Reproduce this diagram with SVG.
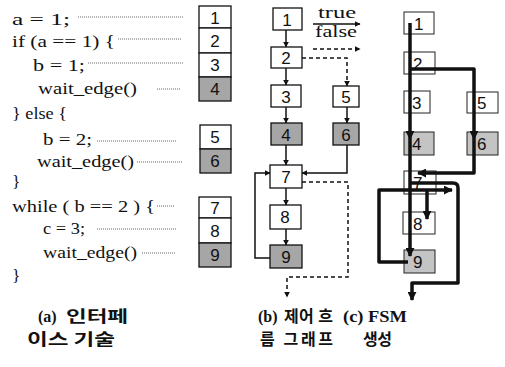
<svg xmlns="http://www.w3.org/2000/svg" width="505" height="367" viewBox="0 0 505 367">
<defs>
<style>
.code{font-family:"Liberation Serif","Times New Roman",serif;font-size:17.5px;fill:#111}
.num{font-family:"Liberation Sans",Arial,sans-serif;font-size:17px;fill:#111;text-anchor:middle}
.numl{font-family:"Liberation Sans",Arial,sans-serif;font-size:17px;fill:#111}
.box{fill:#fff;stroke:#111;stroke-width:1.3}
.sh{fill:#a6a6a6;stroke:#111;stroke-width:1.3}
.shc{fill:#c4c4c4;stroke:#222;stroke-width:1}
.boxc{fill:#fff;stroke:#222;stroke-width:1}
.lead{stroke:#666;stroke-width:1;stroke-dasharray:1 1;fill:none}
.ar{stroke:#111;stroke-width:1.5;fill:none;marker-end:url(#ah)}
.da{stroke:#111;stroke-width:1.5;fill:none;stroke-dasharray:4 3;marker-end:url(#ah)}
.th{stroke:#111;stroke-width:3.5;fill:none;stroke-linejoin:round}
.cap{font-family:"Liberation Serif","Noto Sans CJK KR",serif;font-size:16px;font-weight:bold;fill:#111}
.kr{font-family:"Noto Sans CJK KR","Noto Sans",sans-serif;font-size:16px;font-weight:bold;fill:#111}
.leg{font-family:"Liberation Serif","Times New Roman",serif;font-size:16px;fill:#111}
</style>
<marker id="ah" viewBox="0 0 10 10" refX="9" refY="5" markerWidth="6" markerHeight="6" orient="auto" markerUnits="userSpaceOnUse"><path d="M0,0 L10,5 L0,10 z" fill="#111"/></marker>
<marker id="ahc" viewBox="0 0 10 10" refX="9" refY="5" markerWidth="9" markerHeight="9" orient="auto" markerUnits="userSpaceOnUse"><path d="M0,0 L10,5 L0,10 z" fill="#111"/></marker>
</defs>

<g id="code">
<text class="code" x="12" y="25" textLength="58" lengthAdjust="spacingAndGlyphs">a = 1;</text>
<text class="code" x="12" y="47" textLength="103" lengthAdjust="spacingAndGlyphs">if (a == 1) {</text>
<text class="code" x="33" y="71" textLength="52" lengthAdjust="spacingAndGlyphs">b = 1;</text>
<text class="code" x="38" y="94" textLength="99" lengthAdjust="spacingAndGlyphs">wait_edge()</text>
<text class="code" x="12" y="119" textLength="55" lengthAdjust="spacingAndGlyphs">} else {</text>
<text class="code" x="43" y="145" textLength="49" lengthAdjust="spacingAndGlyphs">b = 2;</text>
<text class="code" x="37" y="167" textLength="97" lengthAdjust="spacingAndGlyphs">wait_edge()</text>
<text class="code" x="12" y="187">}</text>
<text class="code" x="12" y="212" textLength="143" lengthAdjust="spacingAndGlyphs">while ( b == 2 ) {</text>
<text class="code" x="43" y="234" textLength="42" lengthAdjust="spacingAndGlyphs">c = 3;</text>
<text class="code" x="43" y="258" textLength="94" lengthAdjust="spacingAndGlyphs">wait_edge()</text>
<text class="code" x="12" y="281">}</text>
</g>

<g id="leaders">
<line class="lead" x1="78" y1="17" x2="183" y2="17"/>
<line class="lead" x1="118" y1="39" x2="182" y2="39"/>
<line class="lead" x1="88" y1="63" x2="184" y2="63"/>
<line class="lead" x1="157" y1="89" x2="180" y2="89"/>
<line class="lead" x1="97" y1="141" x2="177" y2="141"/>
<line class="lead" x1="137" y1="162" x2="182" y2="162"/>
<line class="lead" x1="157" y1="206" x2="174" y2="206"/>
<line class="lead" x1="97" y1="229" x2="176" y2="229"/>
<line class="lead" x1="142" y1="253" x2="176" y2="253"/>
</g>

<g id="col-a">
<g id="a1"><rect class="box" x="199" y="6" width="32" height="22"/><text class="num" x="215" y="24">1</text></g>
<g id="a2"><rect class="box" x="199" y="28" width="32" height="25"/><text class="num" x="215" y="47">2</text></g>
<g id="a3"><rect class="box" x="199" y="53" width="32" height="24"/><text class="num" x="215" y="71">3</text></g>
<g id="a4"><rect class="sh" x="199" y="77" width="32" height="24"/><text class="num" x="215" y="95">4</text></g>
<g id="a5"><rect class="box" x="200" y="125" width="31" height="24"/><text class="num" x="215" y="143">5</text></g>
<g id="a6"><rect class="sh" x="200" y="149" width="31" height="24"/><text class="num" x="215" y="167">6</text></g>
<g id="a7"><rect class="box" x="199" y="197" width="32" height="21"/><text class="num" x="215" y="214">7</text></g>
<g id="a8"><rect class="box" x="199" y="218" width="32" height="25"/><text class="num" x="215" y="237">8</text></g>
<g id="a9"><rect class="sh" x="199" y="243" width="32" height="24"/><text class="num" x="215" y="261">9</text></g>
</g>

<g id="connectors-b">
<line class="ar" x1="286" y1="30" x2="286" y2="47"/>
<line class="ar" x1="286" y1="68" x2="286" y2="85"/>
<line class="ar" x1="286" y1="107" x2="286" y2="123"/>
<polyline class="da" points="302,58 347,58 347,86"/>
<line class="ar" x1="347" y1="107" x2="347" y2="123"/>
<line class="ar" x1="286" y1="145" x2="286" y2="165"/>
<polyline class="ar" points="347,145 347,173 302,173"/>
<line class="ar" x1="286" y1="188" x2="286" y2="205"/>
<line class="ar" x1="286" y1="229" x2="286" y2="245"/>
<polyline class="ar" points="270,258 255,258 255,173 270,173"/>
<polyline class="da" points="302,182 348,182 348,277 287,277 287,297"/>
<line class="ar" x1="313" y1="24" x2="360" y2="24"/>
<line class="da" x1="313" y1="49" x2="360" y2="49"/>
</g>
<g id="legend">
<text class="leg" x="318" y="18" textLength="38" lengthAdjust="spacingAndGlyphs">true</text>
<text class="leg" x="315" y="37" textLength="42" lengthAdjust="spacingAndGlyphs">false</text>
</g>

<g id="col-b">
<g id="b1"><rect class="box" x="273" y="8" width="29" height="22"/><text class="num" x="287" y="26">1</text></g>
<g id="b2"><rect class="box" x="271" y="47" width="31" height="21"/><text class="num" x="286" y="64">2</text></g>
<g id="b3"><rect class="box" x="271" y="85" width="30" height="22"/><text class="num" x="286" y="103">3</text></g>
<g id="b4"><rect class="sh" x="271" y="123" width="31" height="22"/><text class="num" x="286" y="141">4</text></g>
<g id="b5"><rect class="box" x="333" y="86" width="26" height="21"/><text class="num" x="346" y="103">5</text></g>
<g id="b6"><rect class="sh" x="333" y="123" width="26" height="22"/><text class="num" x="346" y="141">6</text></g>
<g id="b7"><rect class="box" x="270" y="165" width="32" height="23"/><text class="num" x="286" y="183">7</text></g>
<g id="b8"><rect class="box" x="270" y="205" width="31" height="24"/><text class="num" x="285" y="223">8</text></g>
<g id="b9"><rect class="sh" x="270" y="245" width="32" height="23"/><text class="num" x="286" y="263">9</text></g>
</g>

<g id="col-c">
<g id="c1"><rect class="boxc" x="404" y="12" width="30" height="22"/><text class="numl" x="414" y="30">1</text></g>
<g id="c2"><rect class="boxc" x="404" y="52" width="31" height="22"/><text class="numl" x="413" y="70">2</text></g>
<g id="c3"><rect class="boxc" x="404" y="91" width="26" height="22"/><text class="numl" x="412" y="109">3</text></g>
<g id="c4"><rect class="shc" x="404" y="132" width="30" height="23"/><text class="numl" x="412" y="150">4</text></g>
<g id="c5"><rect class="boxc" x="467" y="92" width="31" height="21"/><text class="numl" x="477" y="109">5</text></g>
<g id="c6"><rect class="shc" x="467" y="132" width="31" height="23"/><text class="numl" x="477" y="150">6</text></g>
<g id="c7"><rect class="boxc" x="404" y="171" width="32" height="23"/><text class="numl" x="413" y="189">7</text></g>
<g id="c8"><rect class="boxc" x="403" y="212" width="32" height="22"/><text class="numl" x="413" y="230">8</text></g>
<g id="c9"><rect class="shc" x="404" y="250" width="31" height="23"/><text class="numl" x="413" y="268">9</text></g>
</g>

<g id="connectors-c">
<line class="th" x1="410" y1="23" x2="410" y2="139" marker-end="url(#ahc)"/>
<line class="th" x1="410" y1="139" x2="410" y2="256" marker-end="url(#ahc)"/>
<polyline class="th" points="410,69 474,69 474,139" marker-end="url(#ahc)"/>
<polyline class="th" points="474,139 474,173 418,173" marker-end="url(#ahc)"/>
<polyline class="th" points="408,262 379,262 379,190 452,190" marker-end="url(#ahc)"/>
<path class="th" d="M410,183 H453 Q458,183 458,188 V283 H412 V300" marker-end="url(#ahc)"/>
<line class="th" x1="427" y1="190" x2="427" y2="219" marker-end="url(#ahc)"/>
</g>

<g id="captions">
<text class="cap" x="38" y="322">(a)</text>
<text class="kr" x="66" y="322" textLength="62" lengthAdjust="spacingAndGlyphs">인터페</text>
<text class="kr" x="27" y="345" textLength="88" lengthAdjust="spacingAndGlyphs">이스 기술</text>
<text class="cap" x="258" y="322">(b)</text>
<text class="kr" x="284" y="322" textLength="49" lengthAdjust="spacing">제어 흐</text>
<text class="kr" x="260" y="345" textLength="73" lengthAdjust="spacing">름 그래프</text>
<text class="cap" x="343" y="322" textLength="64" lengthAdjust="spacingAndGlyphs">(c) FSM</text>
<text class="kr" x="363" y="345" textLength="29" lengthAdjust="spacing">생성</text>
</g>
</svg>
